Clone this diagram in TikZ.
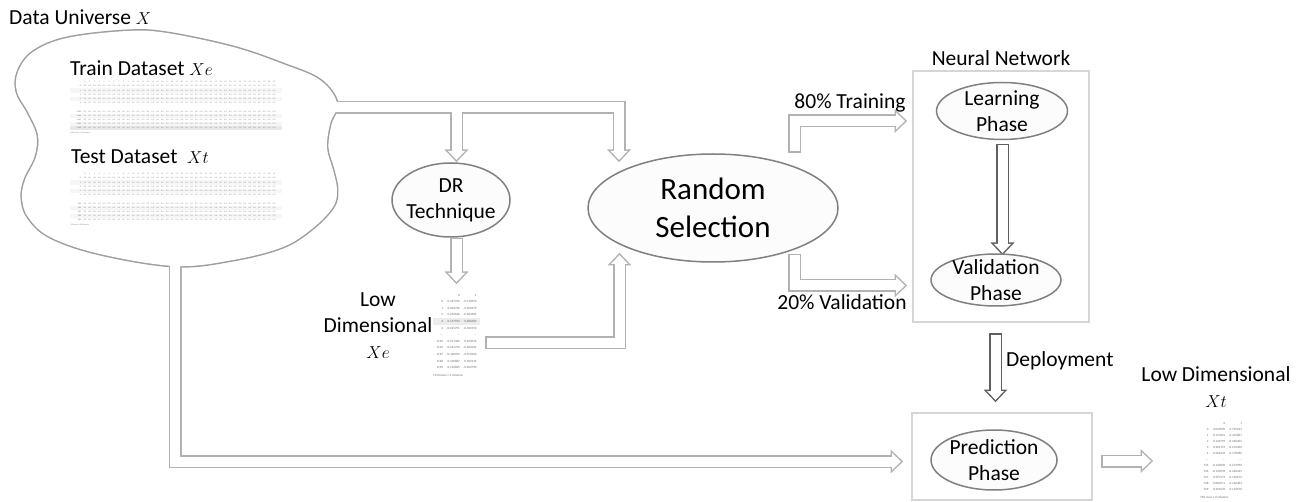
\documentclass[tikz,border=0pt]{standalone}
\usepackage{fontspec}
\setmainfont{Carlito}
\usetikzlibrary{matrix,positioning,shapes.geometric}

\pgfdeclarelayer{background}
\pgfsetlayers{background,main}

\definecolor{pipegray}{RGB}{178,178,178}
\definecolor{cloudgray}{RGB}{158,158,158}
\definecolor{ringgray}{RGB}{128,128,128}
\definecolor{boxgray}{RGB}{214,214,214}
\definecolor{darkpipe}{RGB}{96,96,96}
\definecolor{cellgray}{RGB}{105,105,105}

\newcommand\figfont{\fontsize{21.5}{26}\selectfont}
\newcommand\bigfont{\fontsize{31}{38}\selectfont}
\newcommand\varfont{\fontsize{16}{20}\selectfont}
\newcommand\cellfont{\fontsize{3.2}{3.6}\selectfont}
\newcommand\dotfont{\fontsize{2}{2}\selectfont}

\tikzset{
  lbl/.style={font=\figfont, inner sep=0pt},
  phase/.style={ellipse, draw=ringgray, line width=1.5pt, fill=gray!2, align=center, font=\figfont, inner sep=0pt},
  frame/.style={draw=boxgray, line width=2pt},
  cell/.style={font=\cellfont, text=cellgray, inner sep=0pt},
  dot/.style={font=\dotfont, text=gray, inner sep=0pt},
  outerpass/.style={
    pipe/.style={draw=##1, line width=13pt, line cap=rect, line join=miter},
    pipe/.default=pipegray,
    head/.style={draw=##1, fill=##1, line width=3pt, line join=miter},
    head/.default=pipegray,
    blob/.style={draw=cloudgray, line width=3pt}},
  innerpass/.style={
    pipe/.style={draw=white, line width=10pt, line cap=rect, line join=miter},
    pipe/.default=pipegray,
    head/.style={fill=white},
    head/.default=pipegray,
    blob/.style={fill=white}},
}

\newcommand\pipehead[3]{\path[head=#3, shift={(#1)}, rotate=#2] (0,0) -- (-9,8.5) -- (-9,-8.5) -- cycle;}

\newcommand\allpipes{%
  \path[blob] plot[smooth cycle, tension=0.6] coordinates {
    (127,31) (167,33) (233,47) (283,64) (320,80) (337,103) (330,124) (327,148)
    (333,170) (337,190) (333,207) (313,228) (283,247) (233,260) (175,266)
    (100,254) (50,237) (28,217) (22,198) (25,180) (36,157) (38,135) (28,112)
    (17,92) (18,72) (33,52) (67,38)};
  \draw[pipe] (300,107.5) -- (619,107.5) -- (619,146.5);
  \draw[pipe] (456.5,107.5) -- (456.5,146.5);
  \pipehead{619,160}{-90}{pipegray}
  \pipehead{456.5,160}{-90}{pipegray}
  \draw[pipe] (456.5,244.5) -- (456.5,268.5);
  \pipehead{456.5,282}{-90}{pipegray}
  \draw[pipe] (491.5,342.5) -- (619.5,342.5) -- (619.5,268.5);
  \pipehead{619.5,255}{90}{pipegray}
  \draw[pipe] (794.5,146.5) -- (794.5,121) -- (891.5,121);
  \pipehead{905,121}{0}{pipegray}
  \draw[pipe] (794.5,260.5) -- (794.5,285.5) -- (891.5,285.5);
  \pipehead{905,285.5}{0}{pipegray}
  \draw[pipe=darkpipe] (1002.5,150.5) -- (1002.5,239.5);
  \pipehead{1002.5,253}{-90}{darkpipe}
  \draw[pipe=darkpipe] (995.5,339.5) -- (995.5,386.5);
  \pipehead{995.5,400}{-90}{darkpipe}
  \draw[pipe] (175,240) -- (175,461.5) -- (887.5,461.5);
  \pipehead{901,461.5}{0}{pipegray}
  \draw[pipe] (1107.5,461) -- (1137.5,461);
  \pipehead{1151,461}{0}{pipegray}
}

\newcommand\widetable[4]{%
  \foreach \k in {2,4,8,10}
    \fill[gray!7] (70,#2+4.2*\k) rectangle (282,#2+4.2*\k+4.2);
  \foreach \c [evaluate=\c as \h using int(\c-1)] in {1,...,40}
    \node[dot] (#1-0-\c) at (80+4.85*\c,#2+2) {\h};
  \foreach \i [count=\k] in {0,1,2,3,4}{
    \node[dot, anchor=east] (#1-\k-0) at (81,#2+2+4.2*\k) {\bfseries\i};
    \foreach \c in {1,...,40}
      \node[dot] (#1-\k-\c) at (80+4.85*\c,#2+2+4.2*\k) {0.0};
  }
  \node[dot, anchor=east] (#1-6-0) at (81,#2+2+4.2*6) {...};
  \foreach \i [count=\k from 7] in {#3}{
    \node[dot, anchor=east] (#1-\k-0) at (81,#2+2+4.2*\k) {\bfseries\i};
    \foreach \c in {1,...,40}
      \node[dot] (#1-\k-\c) at (80+4.85*\c,#2+2+4.2*\k) {0.0};
  }
  \node[dot, anchor=west] (#1-cap) at (70,#2+2+4.2*12) {#4};
}

\begin{document}
\begin{tikzpicture}[x=1pt, y=-1pt]
\useasboundingbox (0,0) rectangle (1308,502);

\node[lbl, anchor=base west] (univ) at (9,25) {Data Universe {\varfont$X$}};
\node[lbl, anchor=base west] (trainlbl) at (70,76) {Train Dataset {\varfont$Xe$}};
\node[lbl, anchor=base west] (testlbl) at (71,164) {Test Dataset\ \ {\varfont$Xt$}};

\fill[gray!18] (70,80+4.2*11) rectangle (282,80+4.2*12);
\widetable{tr}{80}{1145,1146,1147,1148,1149}{1150 rows × 40 columns}
\widetable{te}{172}{745,746,747,748,749}{750 rows × 40 columns}

\node[phase, minimum width=118pt, minimum height=74pt, inner xsep=-8pt, inner ysep=-2pt] (dr) at (451,200) {DR\\Technique};
\node[phase, font=\bigfont, minimum width=250pt, minimum height=108pt] (rs) at (713,208) {Random\\Selection};

\node[frame, minimum width=176pt, minimum height=251pt] (nn) at (1001,196.5) {};
\node[lbl, above=4pt of nn] (nnlbl) {Neural Network};
\node[phase, minimum width=131pt, minimum height=57pt, inner ysep=-7pt] (learn) at (1002,111) {Learning\\Phase};
\node[phase, minimum width=130pt, minimum height=52pt, inner xsep=-2pt, inner ysep=-9pt] (valid) at (996,280) {Validation\\Phase};

\node[frame, minimum width=180pt, minimum height=87pt] (predbox) at (1002,456.5) {};
\node[phase, minimum width=126pt, minimum height=60pt, inner xsep=-4pt, inner ysep=-5pt] (pred) at (994,460) {Prediction\\Phase};

\node[lbl] (train80) at (850,103) {80\% Training};
\node[lbl] (valid20) at (842,302) {20\% Validation};
\node[lbl, anchor=west] (deploy) at (1006,361) {Deployment};

\node[lbl, align=center] (lowe) at (378,326) {Low\\Dimensional\\{\varfont$Xe$}};
\matrix (xetab) [matrix of nodes, anchor=north west, row sep=0pt, column sep=3.5pt,
  nodes={cell, anchor=base east, text height=4.6pt, text depth=2pt}] at (433,288) {
     & 0 & 1 \\
  0 & -0.267192 & -0.110953 \\
  1 & 0.022736 & -0.356979 \\
  2 & 0.256646 & -0.304405 \\
  3 & 0.157593 & 0.086600 \\
  4 & -0.021751 & -0.331550 \\
  ... & ... & ... \\
  1145 & 0.911339 & 0.325030 \\
  1146 & -0.241724 & -0.282564 \\
  1147 & -0.320934 & -0.376220 \\
  1148 & 0.410867 & 0.307215 \\
  1149 & 0.163825 & -0.402790 \\
};
\node[cell, anchor=north west] (xecap) at (xetab.south west) {1150 rows × 2 columns};

\node[lbl, align=center] (lowt) at (1216,387) {Low Dimensional\\{\varfont$Xt$}};
\matrix (xttab) [matrix of nodes, anchor=north west, row sep=0pt, column sep=3.5pt,
  nodes={cell, anchor=base east, text height=4.2pt, text depth=1.8pt}] at (1200,417) {
     & 0 & 1 \\
  0 & 0.049290 & 0.729244 \\
  1 & 0.170321 & -0.415867 \\
  2 & 0.132797 & -0.326405 \\
  3 & 0.301157 & -0.272300 \\
  4 & 0.562447 & -0.170586 \\
  ... & ... & ... \\
  745 & -0.130050 & 0.274990 \\
  746 & -0.130939 & -0.226435 \\
  747 & 0.597177 & -0.126672 \\
  748 & 0.062511 & -0.166484 \\
  749 & 0.321670 & 0.123570 \\
};
\node[cell, anchor=north west] (xtcap) at (xttab.south west) {750 rows × 2 columns};

\begin{pgfonlayer}{background}
  \begin{scope}[outerpass] \allpipes \end{scope}
  \begin{scope}[innerpass] \allpipes \end{scope}
  \fill[gray!15] (xetab-5-1.north west -| xetab.west) rectangle (xetab-5-3.south east -| xetab.east);
\end{pgfonlayer}
\end{tikzpicture}
\end{document}
